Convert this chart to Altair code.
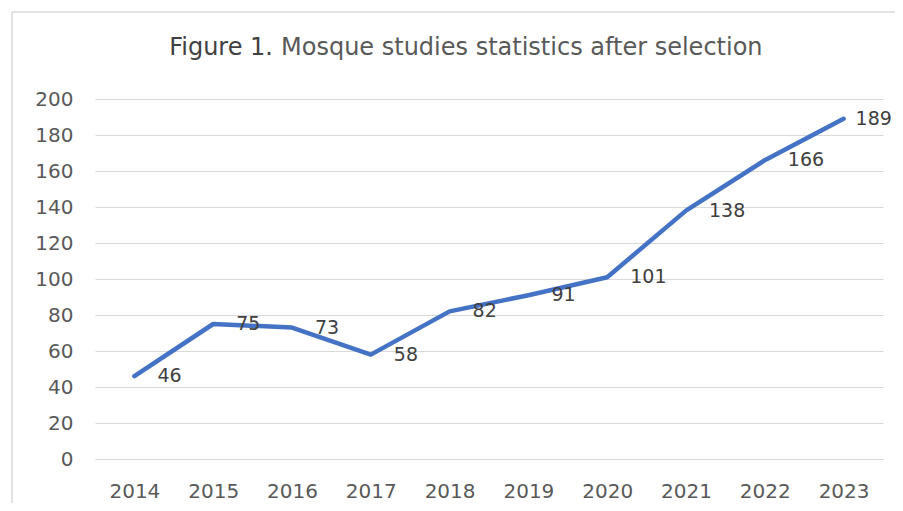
import altair as alt
import pandas as pd

years = ["2014", "2015", "2016", "2017", "2018", "2019", "2020", "2021", "2022", "2023"]
counts = [46, 75, 73, 58, 82, 91, 101, 138, 166, 189]
y_ticks = [0, 20, 40, 60, 80, 100, 120, 140, 160, 180, 200]
title_lead = "Figure 1."
title_rest = "Mosque studies statistics after selection"

FONT = "DejaVu Sans"
GRID = "#D9D9D9"
LABEL = "#595959"

df = pd.DataFrame({"year": years, "count": counts})
one = pd.DataFrame({"k": [0]})

x_enc = alt.X(
    "year:O",
    sort=years,
    scale=alt.Scale(type="point", padding=0.5),
    axis=alt.Axis(
        title=None, labelAngle=0, ticks=False, grid=False,
        domainColor=GRID, domainWidth=1.2,
        labelFont=FONT, labelFontSize=20, labelColor=LABEL, labelPadding=22,
        labelOverlap=False,
    ),
)
y_enc = alt.Y(
    "count:Q",
    scale=alt.Scale(domain=[0, 200], nice=False),
    axis=alt.Axis(
        title=None, values=y_ticks, ticks=False, domain=False,
        gridColor=GRID, gridWidth=1.2, labelOverlap=False,
        labelFont=FONT, labelFontSize=20, labelColor=LABEL, labelPadding=22,
    ),
)

frame_left = alt.Chart(one).mark_rule(stroke=GRID, strokeWidth=1.5).encode(
    x=alt.value(-83), y=alt.value(-87), y2=alt.value(2000)
)
frame_top = alt.Chart(one).mark_rule(stroke=GRID, strokeWidth=1.5).encode(
    x=alt.value(-83), x2=alt.value(2000), y=alt.value(-87)
)

title_a = alt.Chart(one).mark_text(
    font=FONT, fontSize=24, color="#404040", align="right", baseline="middle"
).encode(x=alt.value(178), y=alt.value(-51), text=alt.value(title_lead))
title_b = alt.Chart(one).mark_text(
    font=FONT, fontSize=24, color=LABEL, align="left", baseline="middle"
).encode(x=alt.value(186), y=alt.value(-51), text=alt.value(title_rest))

line = alt.Chart(df).mark_line(color="#4472C4", strokeWidth=4.5, strokeCap="round", strokeJoin="round").encode(
    x=x_enc, y=y_enc
)

labels = alt.Chart(df).transform_filter(alt.datum.year != years[-1]).mark_text(
    font=FONT, fontSize=19, color="#404040", align="left", baseline="middle", dx=23
).encode(x=x_enc, y=y_enc, text="count:Q")

last_label = alt.Chart(df).transform_filter(alt.datum.year == years[-1]).mark_text(
    font=FONT, fontSize=19, color="#404040", align="left", baseline="middle", dx=12
).encode(x=x_enc, y=y_enc, text="count:Q")

chart = alt.layer(frame_left, frame_top, title_a, title_b, line, labels, last_label).properties(
    width=788, height=360, autosize="none",
    padding={"left": 87, "top": 91, "right": 12, "bottom": 44},
).configure_view(stroke=None)

chart.save("out.html", embed_options={"renderer": "svg", "actions": False})
